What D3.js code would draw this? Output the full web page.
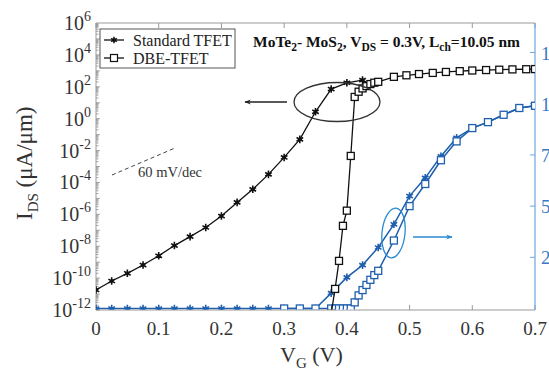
<!DOCTYPE html>
<html>
<head>
<meta charset="utf-8">
<script src="https://cdnjs.cloudflare.com/ajax/libs/d3/7.8.5/d3.min.js"></script>
<style>
  html, body { margin: 0; padding: 0; background: #fff; }
  svg { display: block; font-family: "Liberation Serif", "DejaVu Serif", serif; }
</style>
</head>
<body>
<svg id="chart" width="549" height="378"></svg>
<script>
// ---- data ----
// log axis (left): drain current in uA/um
var stdLogVg = [0, 0.025, 0.05, 0.075, 0.1, 0.125, 0.15, 0.175, 0.2, 0.225, 0.25, 0.275, 0.3, 0.325, 0.35, 0.375, 0.4, 0.425];
var stdLogId = [1.8e-11, 6.6e-11, 2.0e-10, 6.6e-10, 2.5e-9, 1.1e-8, 4.0e-8, 1.5e-7, 7.8e-7, 5.6e-6, 3.7e-5, 3.2e-4, 3.7e-3, 5.0e-2, 2.7, 72, 178, 263];

var dbeLogVg = [0.35, 0.375, 0.38125, 0.3875, 0.39375, 0.4, 0.40625, 0.4125, 0.41875, 0.425, 0.43125, 0.4375, 0.44375, 0.45,
                0.475, 0.495, 0.515, 0.537, 0.558, 0.58, 0.6, 0.622, 0.643, 0.664, 0.686, 0.7];
var dbeLogId = [1e-15, 6e-13, 2.1e-11, 1.2e-9, 1.9e-7, 1.7e-6, 4.6e-3, 23, 49, 79, 110, 148, 180, 204,
                420, 525, 630, 740, 850, 955, 1050, 1120, 1175, 1230, 1260, 1290];

// linear axis (right): drain current in uA/um
var stdLinVg = [0, 0.025, 0.05, 0.075, 0.1, 0.125, 0.15, 0.175, 0.2, 0.225, 0.25, 0.275, 0.3, 0.325, 0.35,
                0.375, 0.4, 0.425, 0.45, 0.475, 0.5, 0.525, 0.55, 0.575, 0.6, 0.625, 0.65, 0.675, 0.7];
var stdLinId = [0, 0, 0, 0, 0, 0, 0, 0, 0, 0, 0, 0, 0, 0, 0,
                75, 152, 212, 298, 411, 549, 638, 743, 833, 881, 910, 946, 979, 990];

var dbeLinVg = [0.3, 0.325, 0.35, 0.375, 0.38125, 0.3875, 0.39375, 0.4, 0.40625, 0.4125, 0.41875, 0.425, 0.43125, 0.4375, 0.44375, 0.45,
                0.475, 0.5, 0.525, 0.55, 0.575, 0.6, 0.625, 0.65, 0.675, 0.7];
var dbeLinId = [0, 0, 0, 0, 0, 0, 0, 0, 0, 30, 64, 90, 115, 140, 163, 184,
                332, 500, 608, 724, 816, 881, 910, 946, 979, 990];

var xTicks = [0, 0.1, 0.2, 0.3, 0.4, 0.5, 0.6, 0.7];
var yLogLabels = [-12, -10, -8, -6, -4, -2, 0, 2, 4, 6];   // exponents
var yLinTicks = [250, 500, 750, 1000, 1250];
var legendNames = ["Standard TFET", "DBE-TFET"];

// ---- layout ----
var plotL = 96, plotR = 535, plotT = 23, plotB = 310;
var black = "#111", blue = "#1f5fae", axisGray = "#9a9a9a", rightBlue = "#6fa6dc";

var svg = d3.select("#chart");

var x = d3.scaleLinear().domain([0, 0.7]).range([plotL, plotR]);
var yLog = d3.scaleLog().domain([1e-12, 1e6]).range([plotB, plotT]);
var yLin = d3.scaleLinear().domain([0, 1250]).range([308.5, 52.5]);

svg.append("defs").append("clipPath").attr("id", "plotClip")
  .append("rect").attr("x", plotL).attr("y", plotT).attr("width", plotR - plotL).attr("height", plotB - plotT - 0.5);

function zip(a, b) { return a.map(function(v, i) { return [v, b[i]]; }); }

// ---- frame / axes ----
svg.append("line").attr("x1", plotL).attr("x2", plotR).attr("y1", plotB).attr("y2", plotB)
  .attr("stroke", axisGray).attr("stroke-width", 1.2);
svg.append("line").attr("x1", plotL).attr("x2", plotR).attr("y1", plotT).attr("y2", plotT)
  .attr("stroke", axisGray).attr("stroke-width", 1);
svg.append("line").attr("x1", plotL).attr("x2", plotL).attr("y1", plotT).attr("y2", plotB)
  .attr("stroke", axisGray).attr("stroke-width", 1);

xTicks.forEach(function(t) {
  svg.append("line").attr("x1", x(t)).attr("x2", x(t)).attr("y1", plotB).attr("y2", plotB - 5)
    .attr("stroke", axisGray);
  svg.append("line").attr("x1", x(t)).attr("x2", x(t)).attr("y1", plotT).attr("y2", plotT + 5)
    .attr("stroke", axisGray);
  svg.append("text").attr("x", x(t)).attr("y", 335).attr("text-anchor", "middle")
    .attr("font-size", 19).attr("fill", "#333").text(t === 0 ? "0" : d3.format(".1f")(t));
});

// log minor/major ticks on left axis
for (var e = -12; e < 6; e++) {
  for (var m = 1; m < 10; m++) {
    var yy = yLog(m * Math.pow(10, e));
    svg.append("line").attr("x1", plotL).attr("x2", plotL + (m === 1 ? 4 : 2.5))
      .attr("y1", yy).attr("y2", yy).attr("stroke", axisGray).attr("stroke-width", 0.9);
  }
}

yLogLabels.forEach(function(p) {
  var t = svg.append("text").attr("x", 91).attr("y", yLog(Math.pow(10, p)) + 7)
    .attr("text-anchor", "end").attr("font-size", 20).attr("fill", "#333");
  t.append("tspan").text("10");
  t.append("tspan").attr("dy", -9).attr("font-size", 14).text(p < 0 ? "-" + (-p) : "" + p);
});

// right axis (linear, blue)
svg.append("line").attr("x1", plotR).attr("x2", plotR).attr("y1", plotT).attr("y2", plotB)
  .attr("stroke", rightBlue).attr("stroke-width", 1.2);
yLinTicks.forEach(function(t) {
  svg.append("line").attr("x1", plotR).attr("x2", plotR - 5).attr("y1", yLin(t)).attr("y2", yLin(t))
    .attr("stroke", rightBlue);
  svg.append("text").attr("x", 541).attr("y", yLin(t) + 7).attr("font-size", 19)
    .attr("fill", "#3a78c0").text(t);
});

// ---- series ----
var line = function(ys) {
  return d3.line().x(function(d) { return x(d[0]); }).y(function(d) { return ys(d[1]); });
};
var plot = svg.append("g").attr("clip-path", "url(#plotClip)");

function drawAsterisks(data, ys, color) {
  var g = plot.append("g");
  data.forEach(function(d) {
    var cx = x(d[0]), cy = ys(d[1]);
    g.append("path").attr("transform", "translate(" + cx + "," + cy + ")")
      .attr("d", d3.symbol(d3.symbolAsterisk, 40)()).attr("fill", "none")
      .attr("stroke", color).attr("stroke-width", 1.6);
    g.append("circle").attr("cx", cx).attr("cy", cy).attr("r", 1.8).attr("fill", color);
  });
}
function drawSquares(data, ys, color) {
  plot.append("g").selectAll("rect").data(data).enter().append("rect")
    .attr("x", function(d) { return x(d[0]) - 3.5; })
    .attr("y", function(d) { return ys(d[1]) - 3.5; })
    .attr("width", 7).attr("height", 7)
    .attr("fill", "#fff").attr("stroke", color).attr("stroke-width", 1.3);
}

var stdLin = zip(stdLinVg, stdLinId), dbeLin = zip(dbeLinVg, dbeLinId);
var stdLog = zip(stdLogVg, stdLogId), dbeLog = zip(dbeLogVg, dbeLogId);

plot.append("path").datum(stdLin).attr("d", line(yLin)).attr("fill", "none").attr("stroke", blue).attr("stroke-width", 1.5);
drawAsterisks(stdLin, yLin, blue);
plot.append("path").datum(dbeLin).attr("d", line(yLin)).attr("fill", "none").attr("stroke", blue).attr("stroke-width", 1.5);
drawSquares(dbeLin, yLin, blue);

plot.append("path").datum(stdLog).attr("d", line(yLog)).attr("fill", "none").attr("stroke", black).attr("stroke-width", 1.3);
drawAsterisks(stdLog, yLog, black);
plot.append("path").datum(dbeLog).attr("d", line(yLog)).attr("fill", "none").attr("stroke", black).attr("stroke-width", 1.3);
drawSquares(dbeLog, yLog, black);

// ---- annotations ----
var defs = svg.select("defs");
[["arrBlack", "#222"], ["arrBlue", "#2a8ad0"]].forEach(function(a) {
  defs.append("marker").attr("id", a[0]).attr("viewBox", "0 0 10 10").attr("refX", 9).attr("refY", 5)
    .attr("markerWidth", 7).attr("markerHeight", 5).attr("orient", "auto")
    .append("path").attr("d", "M0,1 L10,5 L0,9 L3,5 Z").attr("fill", a[1]);
});

svg.append("ellipse").attr("cx", 337).attr("cy", 102).attr("rx", 43).attr("ry", 19.5)
  .attr("fill", "none").attr("stroke", "#333").attr("stroke-width", 1.3);
svg.append("line").attr("x1", 287).attr("y1", 102).attr("x2", 245).attr("y2", 102)
  .attr("stroke", "#222").attr("stroke-width", 1.3).attr("marker-end", "url(#arrBlack)");

svg.append("ellipse").attr("cx", 0).attr("cy", 0).attr("rx", 11.5).attr("ry", 25)
  .attr("transform", "translate(393.5,233) rotate(6)")
  .attr("fill", "none").attr("stroke", "#2a8ad0").attr("stroke-width", 1.3);
svg.append("line").attr("x1", 413).attr("y1", 237).attr("x2", 452).attr("y2", 237)
  .attr("stroke", "#2a8ad0").attr("stroke-width", 1.3).attr("marker-end", "url(#arrBlue)");

// 60 mV/dec reference
svg.append("line").attr("x1", 112).attr("y1", 175).attr("x2", 175).attr("y2", 148)
  .attr("stroke", "#444").attr("stroke-width", 1).attr("stroke-dasharray", "4,3");
svg.append("text").attr("x", 138).attr("y", 177).attr("font-size", 14.5).attr("fill", "#333").text("60 mV/dec");

// condition label
var cond = svg.append("text").attr("x", 253).attr("y", 47).attr("font-size", 15.5)
  .attr("font-weight", "bold").attr("fill", "#111");
[["MoTe", 0], ["2", 1], ["- MoS", 0], ["2", 1], [", V", 0], ["DS", 1], [" = 0.3V, L", 0], ["ch", 1], ["=10.05 nm", 0]]
  .forEach(function(p, i, arr) {
    var prevSub = i > 0 && arr[i - 1][1];
    var ts = cond.append("tspan").text(p[0]);
    if (p[1]) ts.attr("font-size", 11.5).attr("dy", 4);
    else if (prevSub) ts.attr("dy", -4);
  });

// ---- legend ----
var lg = svg.append("g");
lg.append("rect").attr("x", 100).attr("y", 29).attr("width", 135).attr("height", 39)
  .attr("fill", "#fff").attr("stroke", "#555").attr("stroke-width", 1);
legendNames.forEach(function(name, i) {
  var yy = 40 + i * 18;
  lg.append("line").attr("x1", 104).attr("x2", 124).attr("y1", yy).attr("y2", yy)
    .attr("stroke", black).attr("stroke-width", 1.3);
  if (i === 0) {
    lg.append("path").attr("transform", "translate(114," + yy + ")")
      .attr("d", d3.symbol(d3.symbolAsterisk, 30)()).attr("stroke", black).attr("stroke-width", 1.5);
    lg.append("circle").attr("cx", 114).attr("cy", yy).attr("r", 1.8).attr("fill", black);
  } else {
    lg.append("rect").attr("x", 110.5).attr("y", yy - 3.5).attr("width", 7).attr("height", 7)
      .attr("fill", "#fff").attr("stroke", black).attr("stroke-width", 1.2);
  }
  lg.append("text").attr("x", 133).attr("y", yy + 5.5).attr("font-size", 16).attr("fill", "#222").text(name);
});

// ---- axis titles ----
var xt = svg.append("text").attr("x", 280).attr("y", 362).attr("font-size", 22).attr("fill", "#333");
xt.append("tspan").text("V");
xt.append("tspan").attr("font-size", 15).attr("dy", 6).text("G");
xt.append("tspan").attr("dy", -6).text(" (V)");

var yt = svg.append("text").attr("transform", "translate(32,220) rotate(-90)").attr("font-size", 23).attr("fill", "#333");
yt.append("tspan").text("I");
yt.append("tspan").attr("font-size", 15).attr("dy", 6).text("DS");
yt.append("tspan").attr("dy", -6).text(" (\u03bcA/\u03bcm)");
</script>
</body>
</html>
